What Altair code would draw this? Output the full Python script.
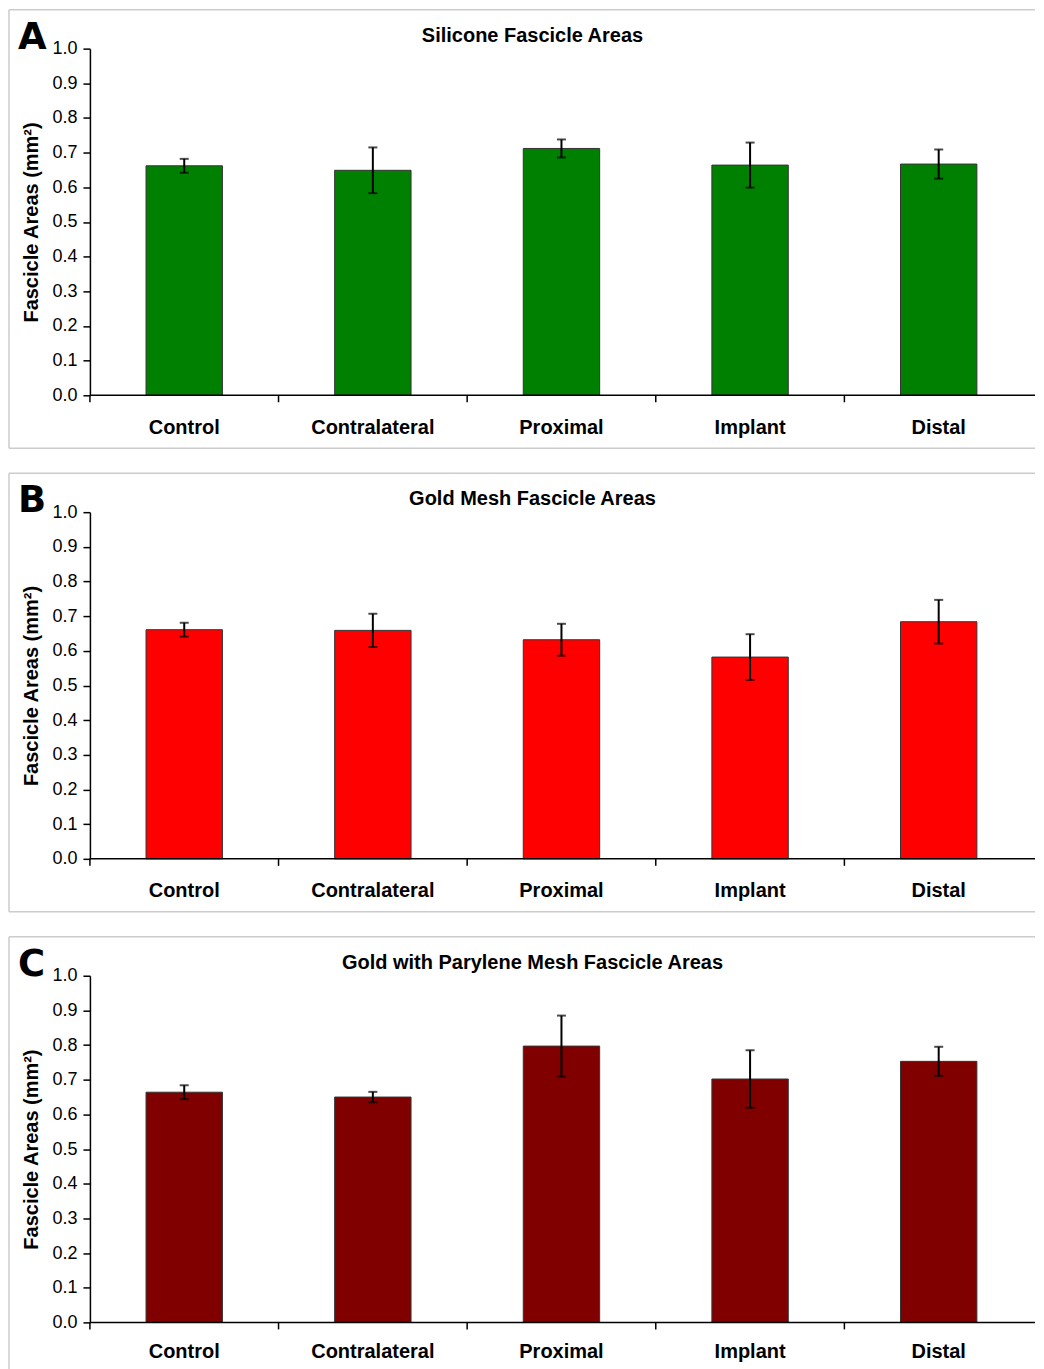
import altair as alt
import pandas as pd

categories = ["Control", "Contralateral", "Proximal", "Implant", "Distal"]

silicone_mean = [0.662, 0.649, 0.712, 0.664, 0.667]
silicone_err = [0.020, 0.066, 0.026, 0.065, 0.042]

gold_mean = [0.661, 0.659, 0.632, 0.582, 0.684]
gold_err = [0.020, 0.048, 0.046, 0.066, 0.063]

parylene_mean = [0.664, 0.650, 0.797, 0.702, 0.753]
parylene_err = [0.020, 0.015, 0.088, 0.083, 0.042]

panel_letters = ["A", "B", "C"]
panel_titles = [
    "Silicone Fascicle Areas",
    "Gold Mesh Fascicle Areas",
    "Gold with Parylene Mesh Fascicle Areas",
]
bar_colors = ["#008000", "#FF0000", "#800000"]
y_ticks = [0.0, 0.1, 0.2, 0.3, 0.4, 0.5, 0.6, 0.7, 0.8, 0.9, 1.0]

W = 944
H = 347
STEP = 191
FONT = "Liberation Sans"
BORDER = "#cccccc"
# outer padding (slightly negative) so each band is STEP px wide, first band starting at 0
PAD_OUT = (W / STEP - len(categories)) / 2


def panel(letter, title, means, errs, color, bottom_border=True, label_pad=22):
    df = pd.DataFrame({"cat": categories, "mean": means, "err": errs})
    df["lo"] = df["mean"] - df["err"]
    df["hi"] = df["mean"] + df["err"]
    one = pd.DataFrame({"k": [0]})

    xscale = alt.Scale(
        domain=categories,
        paddingInner=0,
        paddingOuter=alt.ExprRef(expr=f"{PAD_OUT:.6f}"),
        align=0,
    )
    yscale = alt.Scale(domain=[0, 1], nice=False)

    x_axis = alt.Axis(
        title=None,
        labelAngle=0,
        ticks=False,
        domain=False,
        labelPadding=label_pad,
        labelFontSize=20,
        labelFontWeight="bold",
    )
    y_axis = alt.Axis(
        values=y_ticks,
        format=".1f",
        grid=False,
        tickSize=7,
        tickColor="black",
        tickWidth=1.5,
        domainColor="black",
        domainWidth=1.5,
        labelFontSize=18,
        labelPadding=6,
        labelOverlap=False,
        title="Fascicle Areas (mm²)",
        titleFontSize=20,
        titleFontWeight="bold",
        titlePadding=10,
    )

    def xe(**kw):
        return alt.X("cat:N", scale=xscale, sort=categories, axis=x_axis, **kw)

    def ye(field):
        return alt.Y(field, scale=yscale, axis=y_axis)

    bars = alt.Chart(df).mark_bar(
        color=color, stroke="#333333", strokeWidth=1, width=alt.RelativeBandSize(0.405)
    ).encode(x=xe(), y=ye("mean:Q"))

    err_rule = alt.Chart(df).mark_rule(color="black", strokeWidth=2).encode(
        x=xe(), y=ye("lo:Q"), y2="hi:Q"
    )
    cap_lo = alt.Chart(df).mark_tick(
        color="black", thickness=2, size=9, orient="horizontal"
    ).encode(x=xe(), y=ye("lo:Q"))
    cap_hi = alt.Chart(df).mark_tick(
        color="black", thickness=2, size=9, orient="horizontal"
    ).encode(x=xe(), y=ye("hi:Q"))

    bound_ticks = alt.Chart(df).mark_rule(color="black", strokeWidth=1.5).encode(
        x=xe(bandPosition=0),
        y=alt.value(H),
        y2=alt.value(H + 7),
    )

    baseline = alt.Chart(one).mark_rule(color="black", strokeWidth=1.5).encode(
        x=alt.value(0), x2=alt.value(W + 2), y=alt.value(H)
    )

    top_line = alt.Chart(one).mark_rule(color=BORDER, strokeWidth=1.5).encode(
        x=alt.value(-81), x2=alt.value(W + 2), y=alt.value(-39)
    )
    left_line = alt.Chart(one).mark_rule(color=BORDER, strokeWidth=1.5).encode(
        x=alt.value(-81), y=alt.value(-39), y2=alt.value(H + 53)
    )
    bottom_line = alt.Chart(one).mark_rule(color=BORDER, strokeWidth=1.5).encode(
        x=alt.value(-81), x2=alt.value(W + 2), y=alt.value(H + 53)
    )

    letter_txt = alt.Chart(one).mark_text(
        text=letter,
        font="DejaVu Sans",
        fontSize=37,
        fontWeight="bold",
        align="left",
        baseline="alphabetic",
        color="black",
    ).encode(x=alt.value(-72), y=alt.value(0))

    title_txt = alt.Chart(one).mark_text(
        text=title,
        font=FONT,
        fontSize=20,
        fontWeight="bold",
        align="center",
        baseline="middle",
        color="black",
    ).encode(x=alt.value(443), y=alt.value(-13))

    layers = [top_line, left_line]
    if bottom_border:
        layers.append(bottom_line)
    layers += [bars, err_rule, cap_lo, cap_hi, baseline, bound_ticks, letter_txt, title_txt]
    return alt.layer(*layers).properties(width=W, height=H)


pA = panel(panel_letters[0], panel_titles[0], silicone_mean, silicone_err, bar_colors[0])
pB = panel(panel_letters[1], panel_titles[1], gold_mean, gold_err, bar_colors[1])
pC = panel(panel_letters[2], panel_titles[2], parylene_mean, parylene_err, bar_colors[2],
           bottom_border=False, label_pad=19)

chart = (
    alt.vconcat(pA, pB, pC, spacing=23)
    .properties(padding=0)
    .configure(font=FONT)
    .configure_view(stroke=None)
    .configure_axis(labelFont=FONT, titleFont=FONT, labelColor="black", titleColor="black")
)

chart.save("out.html", embed_options={"renderer": "svg", "actions": False})
